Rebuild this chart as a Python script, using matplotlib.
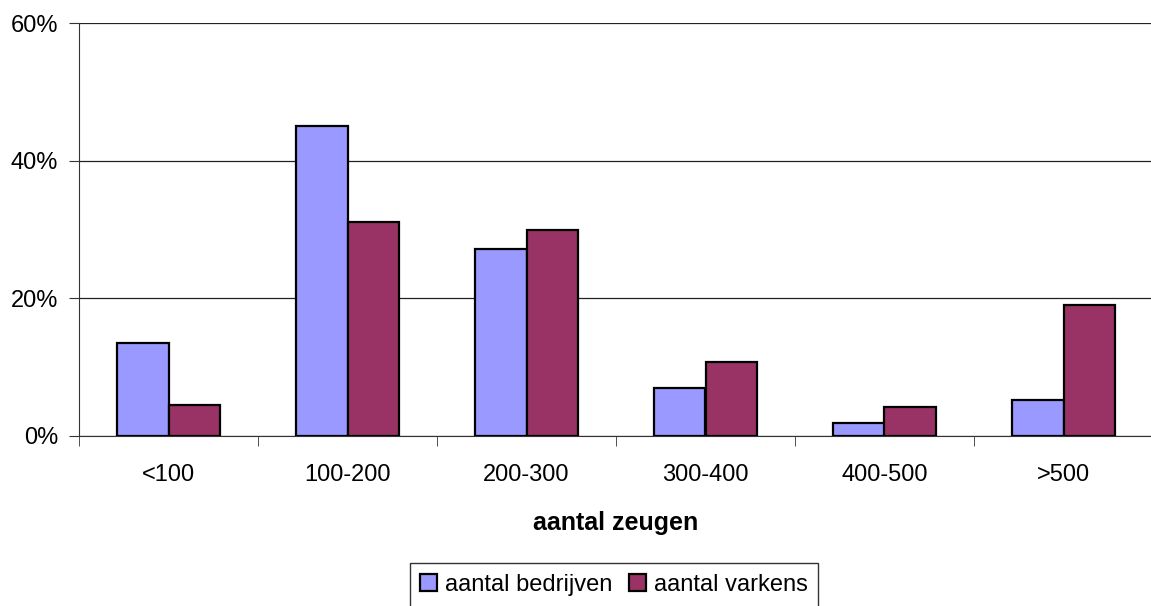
import matplotlib
matplotlib.use("Agg")
import matplotlib.pyplot as plt
import numpy as np

categories = ["<100", "100-200", "200-300", "300-400", "400-500", ">500"]
bedrijven = [13.5, 45.0, 27.2, 7.0, 1.9, 5.3]
varkens = [4.5, 31.1, 30.0, 10.7, 4.2, 19.0]
series_names = ["aantal bedrijven", "aantal varkens"]
yticks = [0, 20, 40, 60]

plt.rcParams["font.family"] = ["Liberation Sans", "DejaVu Sans"]

fig = plt.figure(figsize=(11.51, 6.06), dpi=100)
ax = fig.add_axes([79 / 1151, 1 - 436 / 606, 1074 / 1151, 413 / 606])

x = np.arange(len(categories))
w = 0.29
ax.bar(x - w / 2, bedrijven, w, color="#9999FF", edgecolor="black", linewidth=1.6,
       label=series_names[0], zorder=3)
ax.bar(x + w / 2, varkens, w, color="#993366", edgecolor="black", linewidth=1.6,
       label=series_names[1], zorder=3)

ax.set_xlim(-0.5, len(categories) - 0.5)
ax.set_ylim(0, 60)
ax.set_yticks(yticks)
ax.set_yticklabels([f"{v}%" for v in yticks], fontsize=17)
ax.yaxis.grid(True, color="#222222", linewidth=0.9, zorder=0)

ax.set_xticks(x)
ax.set_xticklabels(categories, fontsize=17)
ax.tick_params(axis="x", which="major", length=0, pad=20)
ax.set_xticks(np.arange(len(categories) + 1) - 0.5, minor=True)
ax.tick_params(axis="x", which="minor", length=7, color="#333333")
ax.tick_params(axis="y", length=7, color="#333333", pad=8)

for side in ["top", "right"]:
    ax.spines[side].set_visible(False)
ax.spines["left"].set_color("#333333")
ax.spines["bottom"].set_color("#333333")

ax.set_xlabel("aantal zeugen", fontsize=18, fontweight="bold", labelpad=18)

leg = fig.legend(loc="center", bbox_to_anchor=(614 / 1151, 1 - 585 / 606), ncol=2,
                 fontsize=17, frameon=True, fancybox=False, edgecolor="black",
                 handlelength=0.7, handleheight=0.7, handletextpad=0.35,
                 columnspacing=0.7, borderpad=0.45)
leg.get_frame().set_linewidth(1.0)

fig.savefig("out.png", dpi=100)
